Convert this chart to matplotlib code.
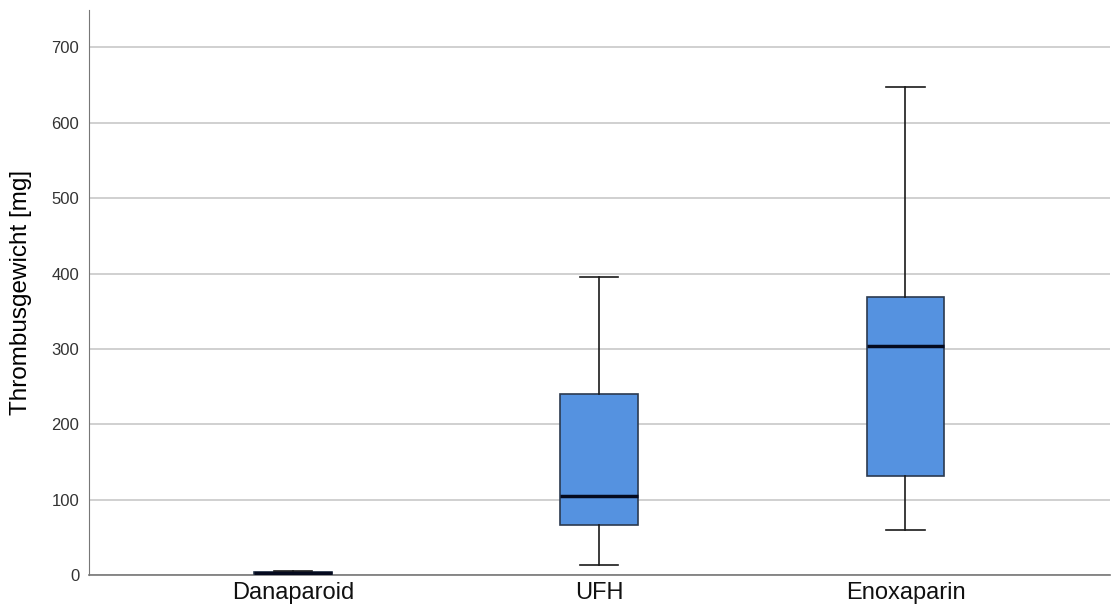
import matplotlib.pyplot as plt

plt.rcParams['font.family'] = ['Liberation Sans', 'DejaVu Sans']

# boxplot summary values (mg)
groups = ['Danaparoid', 'UFH', 'Enoxaparin']
whis_lo = [1, 13, 60]
q1 = [1.5, 66, 131]
median = [3, 105, 304]
q3 = [4.5, 240, 369]
whis_hi = [5, 396, 647]

stats = []
for i, g in enumerate(groups):
    stats.append({'label': g, 'whislo': whis_lo[i], 'q1': q1[i], 'med': median[i],
                  'q3': q3[i], 'whishi': whis_hi[i], 'fliers': []})

fig = plt.figure(figsize=(11.13, 6.10), dpi=100)
ax = fig.add_axes([0.08, 0.057, 0.917, 0.927])

ax.bxp(stats, positions=[0, 1, 2], widths=0.254, patch_artist=True, showfliers=False,
       boxprops=dict(facecolor='#5592e0', edgecolor='#2b3a4f', linewidth=1.2),
       medianprops=dict(color='#050a1e', linewidth=2.5),
       whiskerprops=dict(color='#1a1a1a', linewidth=1.2),
       capprops=dict(color='#1a1a1a', linewidth=1.2), capwidths=0.125,
       zorder=3)

ax.set_xlim(-0.667, 2.667)
ax.set_ylim(0, 750)
ax.set_yticks(range(0, 701, 100))
ax.yaxis.grid(True, color='#c8c8c8', linewidth=1.2, zorder=0)
ax.set_axisbelow(True)

for s in ['top', 'right']:
    ax.spines[s].set_visible(False)
ax.spines['left'].set_color('#777777')
ax.spines['bottom'].set_color('#777777')
ax.spines['bottom'].set_linewidth(1.2)

ax.tick_params(axis='y', length=0, labelsize=12, labelcolor='#333333', pad=7)
ax.tick_params(axis='x', length=0, labelsize=17, labelcolor='#111111', pad=5)
ax.set_ylabel('Thrombusgewicht [mg]', fontsize=17.5, labelpad=14)

plt.savefig('out.png', dpi=100)
